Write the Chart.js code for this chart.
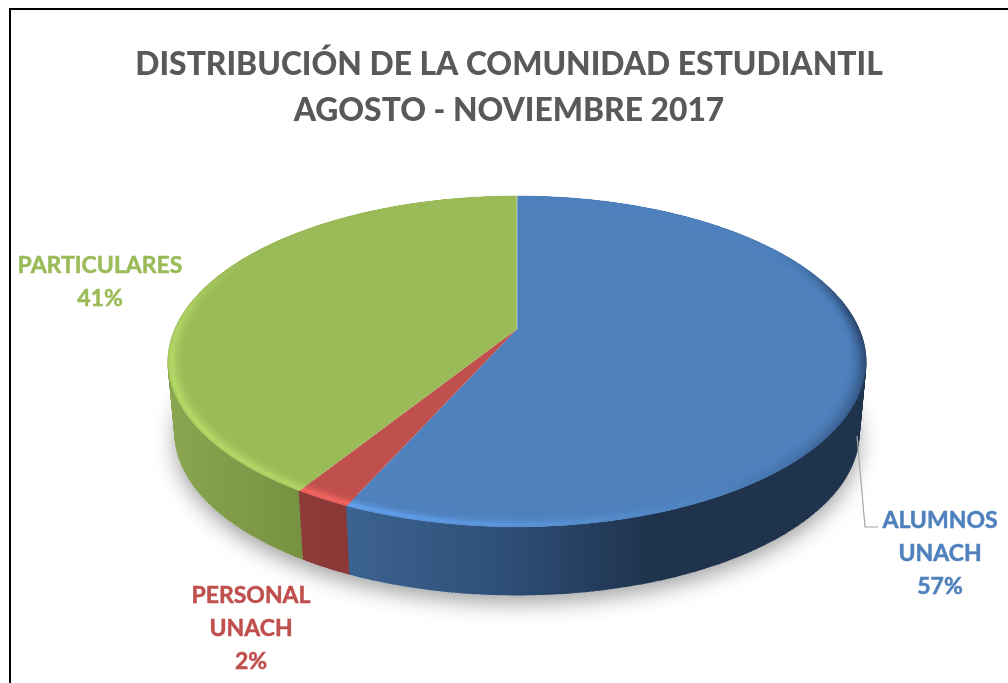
<!DOCTYPE html>
<html>
<head>
<meta charset="utf-8">
<style>html,body{margin:0;padding:0;background:#fff;overflow:hidden}canvas{display:block}</style>
<script src="https://cdn.jsdelivr.net/npm/chart.js@4"></script>
</head>
<body>
<canvas id="c" width="1008" height="683"></canvas>
<script>
const titleLines = ['DISTRIBUCIÓN DE LA COMUNIDAD ESTUDIANTIL', 'AGOSTO - NOVIEMBRE 2017'];
const categories = ['ALUMNOS UNACH', 'PERSONAL UNACH', 'PARTICULARES'];
const values = [56.7, 2.2, 41.1];
const labelLines = [['ALUMNOS', 'UNACH'], ['PERSONAL', 'UNACH'], ['PARTICULARES']];
const sliceColors = ['#4F81BD', '#C0504D', '#9BBB59'];

// view geometry (perspective projection of the pie's circle)
const view = {cx: 517, cy: 329, R: 342, S: 159, k: -0.196, depth: 72, baseScale: 0.98, midY: 361};
const wallStops = [
  [[345, '#3d6392'], [500, '#2e4f78'], [650, '#1f334d'], [870, '#1f334d']],
  [[300, '#8e3a38'], [350, '#8a3735']],
  [[167, '#8ba650'], [250, '#7e9948'], [305, '#76913f']]
];
const bevelGain = [0.34, 0.34, 0.17];
const labelPos = [{x: 940, y: 521}, {x: 251, y: 596}, {x: 100, y: 266}];
const lineStep = 33;

function proj(t, r) {
  const u = r * Math.sin(t), v = -r * Math.cos(t), w = 1 + view.k * v;
  return {x: view.cx + view.R * u / w, y: view.cy + view.S * v / w};
}
function baseOf(p) {
  return {
    x: view.cx + view.baseScale * (p.x - view.cx),
    y: view.midY + view.depth + view.baseScale * (p.y - view.midY)
  };
}
function rgb(h) { return [1, 3, 5].map(i => parseInt(h.substr(i, 2), 16)); }
function mix(c, d, a) { return c.map((x, i) => Math.round(x + (d[i] - x) * a)); }
function lift(c, f) { return c.map(x => Math.min(255, Math.round(x * f))); }
function css(c) { return 'rgb(' + c.join(',') + ')'; }
function smooth(a, b, x) { const t = Math.min(1, Math.max(0, (x - a) / (b - a))); return t * t * (3 - 2 * t); }

const pie3d = {
  id: 'pie3d',
  beforeDraw(chart) {
    const g = chart.ctx;
    g.save();
    g.fillStyle = '#000';
    g.fillRect(9, 8, 999, 2);
    g.fillRect(9, 8, 2, 675);
    g.restore();
  },
  beforeDatasetsDraw(chart) {
    const g = chart.ctx;
    const arcs = chart.getDatasetMeta(0).data;
    const slices = arcs.map((a, i) => ({i, a0: a.startAngle + Math.PI / 2, a1: a.endAngle + Math.PI / 2}));
    const STEP = Math.PI / 180;

    // soft shadow
    g.save();
    g.shadowColor = 'rgba(0,0,0,0.38)';
    g.shadowBlur = 22;
    g.shadowOffsetY = 7;
    g.fillStyle = '#fff';
    g.beginPath();
    for (let t = 0; t < Math.PI * 2; t += STEP) {
      const p = baseOf(proj(t, 1));
      t === 0 ? g.moveTo(p.x, p.y) : g.lineTo(p.x, p.y);
    }
    g.closePath();
    g.fill();
    g.restore();

    // side wall: one ribbon per slice
    [2, 1, 0].forEach(n => {
      const s = slices[n];
      const stops = wallStops[n];
      const lg = g.createLinearGradient(stops[0][0], 0, stops[stops.length - 1][0], 0);
      const span = stops[stops.length - 1][0] - stops[0][0];
      stops.forEach(st => lg.addColorStop((st[0] - stops[0][0]) / span, st[1]));
      g.fillStyle = lg;
      const top = [], bot = [];
      const fine = STEP / 2;
      for (let t = s.a0; t < s.a1; t += fine) { const p = proj(t, 1); top.push(p); bot.push(baseOf(p)); }
      const q = proj(s.a1, 1); top.push(q); bot.push(baseOf(q));
      g.beginPath();
      top.forEach((p, i) => i ? g.lineTo(p.x, p.y) : g.moveTo(p.x, p.y));
      bot.slice().reverse().forEach(p => g.lineTo(p.x, p.y));
      g.closePath();
      g.fill('nonzero');
      // envelope pass so the silhouette stays filled where the ribbon twists
      g.strokeStyle = lg;
      g.lineWidth = 1.5;
      g.lineCap = 'butt';
      for (let i = 0; i < top.length; i++) {
        g.beginPath();
        g.moveTo(top[i].x, top[i].y);
        g.lineTo(bot[i].x, bot[i].y);
        g.stroke();
      }
    });

    // top faces
    slices.forEach(s => {
      const col = sliceColors[s.i];
      g.fillStyle = col;
      g.beginPath();
      g.moveTo(view.cx, view.cy);
      for (let t = s.a0; t < s.a1; t += STEP) { const p = proj(t, 1); g.lineTo(p.x, p.y); }
      const q = proj(s.a1, 1); g.lineTo(q.x, q.y);
      g.closePath();
      g.fill();
    });

    // bevel band along the rim
    const LAYERS = 12, BAND = 0.05;
    slices.forEach(s => {
      const base = rgb(sliceColors[s.i]);
      for (let t = s.a0; t < s.a1; t += STEP) {
        const e = Math.min(t + STEP, s.a1), mid = (t + e) / 2;
        const v = -Math.cos(mid);
        const light = Math.cos(mid - 240 * Math.PI / 180) * smooth(-0.6, 0.0, v);
        for (let l = 0; l < LAYERS; l++) {
          const tt = (l + 0.5) / LAYERS;
          const r0 = 1 - BAND * l / LAYERS, r1 = 1 - BAND * (l + 1) / LAYERS;
          let c;
          if (light >= 0) {
            const prof = tt < 0.2 ? 0.55 + 2.25 * tt : Math.pow((1 - tt) / 0.8, 2);
            c = lift(base, 1 + bevelGain[s.i] * light * prof);
          } else {
            c = mix(base, [10, 20, 40], 0.68 * -light * Math.pow(1 - tt, 1.6));
          }
          const a = proj(t, r0), b = proj(e, r0), d = proj(e, r1), f = proj(t, r1);
          g.fillStyle = css(c);
          g.strokeStyle = css(c);
          g.lineWidth = 0.5;
          g.beginPath();
          g.moveTo(a.x, a.y); g.lineTo(b.x, b.y); g.lineTo(d.x, d.y); g.lineTo(f.x, f.y);
          g.closePath();
          g.fill();
          g.stroke();
        }
      }
    });

    // thin light seam on the top radius
    const top = proj(slices[0].a0, 1);
    g.strokeStyle = 'rgba(255,255,255,0.45)';
    g.lineWidth = 1;
    g.beginPath();
    g.moveTo(view.cx, view.cy);
    g.lineTo(top.x, top.y);
    g.stroke();

    return false;
  },
  afterDraw(chart) {
    const g = chart.ctx;
    const total = values.reduce((a, b) => a + b, 0);

    // leader line for the first label
    g.save();
    g.strokeStyle = '#a6a6a6';
    g.lineWidth = 1.2;
    g.beginPath();
    g.moveTo(857, 436);
    g.lineTo(865, 527);
    g.lineTo(878, 527);
    g.stroke();

    g.font = 'bold 23px Lato';
    g.textAlign = 'center';
    g.textBaseline = 'middle';
    g.lineWidth = 0.5;
    labelLines.forEach((lines, i) => {
      g.fillStyle = sliceColors[i];
      g.strokeStyle = sliceColors[i];
      const all = lines.concat([Math.round(values[i] / total * 100) + '%']);
      all.forEach((txt, j) => {
        g.fillText(txt, labelPos[i].x, labelPos[i].y + j * lineStep);
        g.strokeText(txt, labelPos[i].x, labelPos[i].y + j * lineStep);
      });
    });
    g.restore();
  }
};

new Chart(document.getElementById('c'), {
  type: 'pie',
  data: {labels: categories, datasets: [{data: values, backgroundColor: sliceColors, borderWidth: 0}]},
  options: {
    responsive: false,
    animation: false,
    layout: {padding: {left: 10}},
    plugins: {
      legend: {display: false},
      tooltip: {enabled: false},
      title: {
        display: true,
        text: titleLines,
        color: '#595959',
        font: {family: 'Lato', weight: '900', size: 31.8, lineHeight: 1.44},
        padding: {top: 42, bottom: 10}
      }
    }
  },
  plugins: [pie3d]
});
</script>
</body>
</html>
